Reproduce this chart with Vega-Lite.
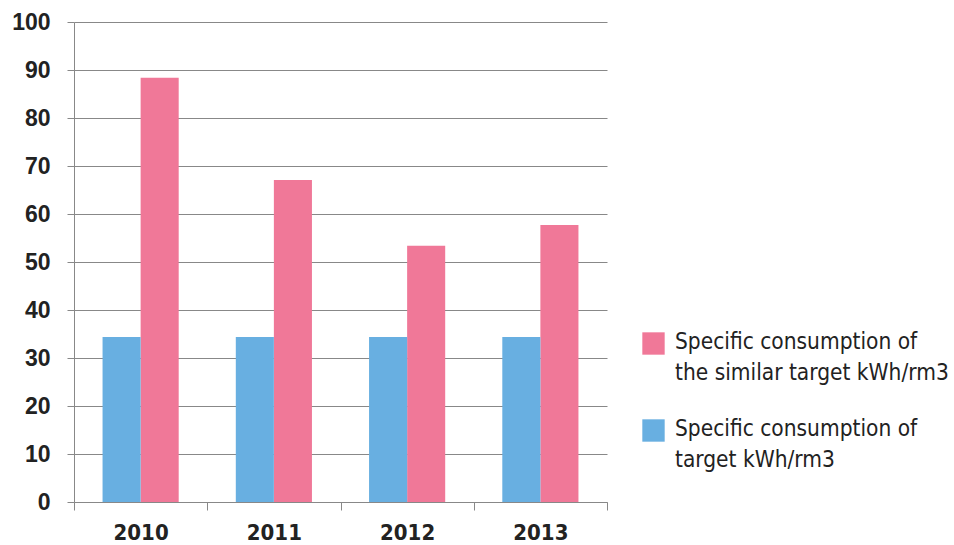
{
  "$schema": "https://vega.github.io/schema/vega-lite/v6.json",
  "width": 533,
  "height": 480,
  "autosize": "none",
  "padding": {"left": 74, "top": 22, "right": 347, "bottom": 43},
  "background": "white",
  "config": {"view": {"stroke": null}},
  "data": {
    "values": [
      {"year": "2010", "series": "Specific consumption of the similar target kWh/rm3", "value": 88.4},
      {"year": "2011", "series": "Specific consumption of the similar target kWh/rm3", "value": 67.1},
      {"year": "2012", "series": "Specific consumption of the similar target kWh/rm3", "value": 53.4},
      {"year": "2013", "series": "Specific consumption of the similar target kWh/rm3", "value": 57.7},
      {"year": "2010", "series": "Specific consumption of target kWh/rm3", "value": 34.4},
      {"year": "2011", "series": "Specific consumption of target kWh/rm3", "value": 34.4},
      {"year": "2012", "series": "Specific consumption of target kWh/rm3", "value": 34.4},
      {"year": "2013", "series": "Specific consumption of target kWh/rm3", "value": 34.4}
    ]
  },
  "mark": {"type": "bar"},
  "encoding": {
    "x": {
      "field": "year", "type": "nominal",
      "scale": {"paddingInner": 0, "paddingOuter": 0},
      "axis": {
        "title": null, "labelAngle": 0, "tickBand": "extent",
        "domainColor": "#888", "tickColor": "#888", "tickSize": 8,
        "labelFont": "DejaVu Sans Condensed", "labelFontWeight": "bold", "labelFontSize": 22,
        "labelColor": "#222", "labelPadding": 12
      }
    },
    "xOffset": {
      "field": "series", "type": "nominal",
      "sort": ["Specific consumption of target kWh/rm3", "Specific consumption of the similar target kWh/rm3"],
      "scale": {"paddingInner": 0, "paddingOuter": 0.75}
    },
    "y": {
      "field": "value", "type": "quantitative",
      "scale": {"domain": [0, 100], "nice": false},
      "axis": {
        "title": null, "values": [0,10,20,30,40,50,60,70,80,90,100],
        "gridColor": "#888", "domainColor": "#888", "tickColor": "#888", "tickSize": 7,
        "labelFont": "Liberation Sans", "labelFontWeight": "bold", "labelFontSize": 23,
        "labelColor": "#222", "labelPadding": 17
      }
    },
    "color": {
      "field": "series", "type": "nominal",
      "sort": ["Specific consumption of the similar target kWh/rm3", "Specific consumption of target kWh/rm3"],
      "scale": {
        "domain": ["Specific consumption of the similar target kWh/rm3", "Specific consumption of target kWh/rm3"],
        "range": ["#F07898", "#68AFE1"]
      },
      "legend": {
        "title": null, "orient": "none", "legendX": 568, "legendY": 310,
        "symbolType": "square", "symbolSize": 500, "symbolStrokeWidth": 0, "symbolOpacity": 1,
        "labelFont": "DejaVu Sans Condensed", "labelFontSize": 22.5, "labelColor": "#222",
        "labelOffset": 10, "labelLimit": 400, "rowPadding": 33, "labelBaseline": "top",
        "labelExpr": "datum.label == 'Specific consumption of target kWh/rm3' ? ['Specific consumption of', 'target kWh/rm3'] : ['Specific consumption of', 'the similar target kWh/rm3']",
        "encode": {"labels": {"update": {"lineHeight": {"value": 31}, "dy": {"value": -13}}}}
      }
    }
  }
}
